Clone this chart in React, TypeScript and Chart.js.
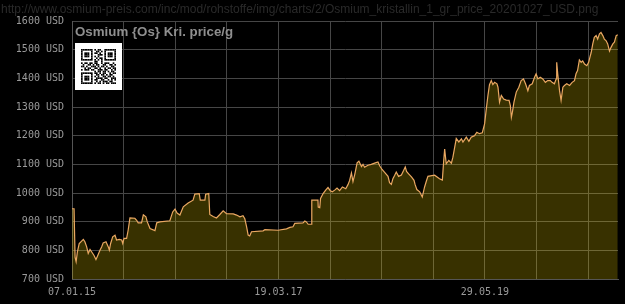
import { useEffect, useRef } from 'react';
import { Chart, registerables } from 'chart.js';

Chart.register(...registerables);

// days since 07.01.2015
const days = [
  0, 8, 12, 16, 21, 28, 44, 50, 57, 63, 70, 76, 85, 93, 98, 109, 115, 121, 132, 141, 145, 150, 158, 167, 173,
  183, 193, 197, 202, 212, 218, 225, 244, 251, 257, 270, 277, 287, 292, 303, 322, 329, 341, 380, 391, 400, 408,
  419, 432, 451, 470, 477, 494, 498, 516, 519, 531, 535, 548, 561, 574, 587, 600, 626, 639, 652, 664, 671, 678,
  684, 690, 697, 742, 749, 800, 833, 846, 858, 865, 897, 904, 910, 917, 930, 931, 955, 956, 962, 965, 975, 985,
  994, 1003, 1011, 1020, 1029, 1039, 1050, 1063, 1072, 1078, 1085, 1091, 1098, 1107, 1114, 1124, 1130, 1136,
  1149, 1162, 1175, 1188, 1195, 1204, 1214, 1227, 1233, 1240, 1246, 1253, 1259, 1268, 1279, 1288, 1294, 1299,
  1307, 1318, 1328, 1332, 1339, 1350, 1360, 1369, 1376, 1382, 1392, 1408, 1427, 1438, 1443, 1447, 1453, 1463,
  1473, 1479, 1486, 1492, 1502, 1512, 1518, 1531, 1541, 1550, 1563, 1572, 1582, 1593, 1602, 1608, 1615, 1621,
  1628, 1634, 1641, 1650, 1654, 1660, 1667, 1676, 1686, 1697, 1702, 1706, 1710, 1716, 1725, 1735, 1744, 1753,
  1761, 1770, 1776, 1787, 1796, 1802, 1809, 1818, 1828, 1838, 1847, 1857, 1864, 1873, 1880, 1882, 1886, 1893,
  1899, 1906, 1912, 1921, 1932, 1942, 1951, 1957, 1963, 1970, 1977, 1983, 1990, 1999, 2006, 2016, 2022, 2028,
  2035, 2041, 2048, 2054, 2061, 2067, 2074, 2080, 2087, 2093, 2100, 2106, 2113, 2119,
];

// USD per gram
const prices = [
  945, 945, 775, 760, 795, 824, 838, 830, 812, 789, 803, 795, 783, 768, 778, 801, 812, 826, 830, 812, 801, 824,
  847, 853, 836, 838, 836, 824, 842, 842, 870, 913, 912, 905, 896, 896, 924, 917, 900, 876, 869, 896, 899, 903,
  934, 944, 930, 923, 952, 965, 975, 996, 998, 975, 975, 996, 998, 925, 918, 913, 925, 938, 928, 927, 923, 917,
  921, 910, 882, 853, 850, 865, 868, 872, 870, 875, 880, 882, 894, 896, 902, 899, 891, 891, 975, 975, 951, 949,
  981, 998, 1010, 1019, 1008, 1004, 1010, 1017, 1008, 1021, 1015, 1030, 1044, 1070, 1040, 1065, 1105, 1111,
  1092, 1100, 1090, 1097, 1100, 1104, 1108, 1094, 1082, 1072, 1058, 1036, 1030, 1050, 1062, 1073, 1058, 1063,
  1079, 1091, 1075, 1067, 1056, 1044, 1030, 1012, 1004, 986, 1021, 1042, 1058, 1060, 1062, 1050, 1045, 1110,
  1153, 1102, 1114, 1104, 1125, 1160, 1190, 1178, 1189, 1178, 1195, 1180, 1195, 1200, 1212, 1207, 1210, 1241,
  1288, 1340, 1378, 1392, 1378, 1386, 1381, 1369, 1317, 1340, 1328, 1324, 1323, 1305, 1264, 1282, 1317, 1352,
  1369, 1392, 1398, 1381, 1357, 1375, 1381, 1404, 1416, 1398, 1404, 1398, 1386, 1392, 1392, 1386, 1381, 1398,
  1456, 1416, 1357, 1323, 1369, 1375, 1381, 1375, 1386, 1392, 1416, 1427, 1464, 1456, 1461, 1450, 1444, 1456,
  1491, 1520, 1543, 1549, 1537, 1555, 1560, 1549, 1537, 1531, 1520, 1495, 1508, 1520, 1526, 1549, 1552,
];

const X_MAX_DAYS = 2120;
const GRID_STEP_DAYS = 200.4;
const GRID_COUNT = 11;
const xTickLabels: Record<number, string> = { 0: '07.01.15', 4: '19.03.17', 8: '29.05.19' };
const Y_MIN = 700;
const Y_MAX = 1600;
const Y_STEP = 100;
const Y_UNIT = 'USD';

const TITLE = 'Osmium {Os} Kri. price/g';
const URL_TEXT = 'http://www.osmium-preis.com/inc/mod/rohstoffe/img/charts/2/Osmium_kristallin_1_gr_price_20201027_USD.png';

const QR = [
  '111111101011001111111',
  '100000100110101000001',
  '101110101101001011101',
  '101110100011101011101',
  '101110101010001011101',
  '100000100101101000001',
  '111111101010101111111',
  '000000001100100000000',
  '101101101100101110010',
  '010011010110011001101',
  '110100111010110100110',
  '001011001101001011011',
  '101110110011101100101',
  '000000001011011010110',
  '111111101101011001011',
  '100000100110110101100',
  '101110101010011011010',
  '101110100111101100111',
  '101110101100110010101',
  '100000100101011101100',
  '111111101011010110111',
];

const decorPlugin = {
  id: 'decor',
  beforeDraw(chart: any) {
    const { ctx, width, height } = chart;
    ctx.save();
    ctx.fillStyle = '#000';
    ctx.fillRect(0, 0, width, height);
    ctx.restore();
  },
  afterDraw(chart: any) {
    const { ctx, chartArea } = chart;
    ctx.save();
    // url
    ctx.font = '12px "Liberation Sans", Arial, sans-serif';
    const w12 = ctx.measureText(URL_TEXT).width;
    const size = (12 * 598) / w12;
    ctx.font = `${size.toFixed(2)}px "Liberation Sans", Arial, sans-serif`;
    ctx.fillStyle = '#2a2a2a';
    ctx.textBaseline = 'alphabetic';
    ctx.textAlign = 'left';
    ctx.fillText(URL_TEXT, 1, 13);
    // title
    ctx.font = 'bold 13.3px "Liberation Sans", Arial, sans-serif';
    ctx.fillStyle = '#8f8f8f';
    ctx.fillText(TITLE, chartArea.left + 3, 36);
    // qr
    const qx = chartArea.left + 3;
    const qy = 43;
    ctx.fillStyle = '#fff';
    ctx.fillRect(qx, qy, 47, 47);
    ctx.fillStyle = '#000';
    const m = 35 / 21;
    for (let r = 0; r < QR.length; r++) {
      for (let c = 0; c < QR[r].length; c++) {
        if (QR[r][c] === '1') ctx.fillRect(qx + 6 + c * m, qy + 6 + r * m, m, m);
      }
    }
    ctx.restore();
  },
};

function dateLabelForIndex(i: number) {
  return xTickLabels[i] ?? '';
}

export default function App() {
  const ref = useRef<HTMLCanvasElement>(null);
  useEffect(() => {
    document.body.style.margin = '0';
    document.body.style.background = '#000';
    const points = days.map((d, i) => ({ x: d, y: prices[i] }));
    const chart = new Chart(ref.current!, {
      type: 'line',
      data: {
        datasets: [
          {
            data: points,
            borderColor: '#eaa862',
            borderWidth: 1.2,
            pointRadius: 0,
            fill: 'start',
            backgroundColor: 'rgba(255, 222, 0, 0.22)',
            tension: 0,
          },
        ],
      },
      options: {
        animation: false,
        responsive: false,
        maintainAspectRatio: false,
        devicePixelRatio: 1,
        layout: { padding: { top: 21, right: 7, left: 0, bottom: 0 } },
        plugins: { legend: { display: false }, tooltip: { enabled: false }, title: { display: false } },
        scales: {
          x: {
            type: 'linear',
            min: 0,
            max: X_MAX_DAYS,
            afterBuildTicks: (s: any) => {
              s.ticks = Array.from({ length: GRID_COUNT }, (_, i) => ({ value: i * GRID_STEP_DAYS }));
            },
            afterFit: (s: any) => {
              s.height = 25;
            },
            ticks: {
              autoSkip: false,
              maxRotation: 0,
              padding: 7,
              color: '#9a9a9a',
              font: { family: '"DejaVu Sans Mono", monospace', size: 10 },
              callback: (_v: any, i: number) => dateLabelForIndex(i),
            },
            grid: { color: '#464646', drawTicks: false, lineWidth: 1 },
            border: { color: '#555', width: 1 },
          },
          y: {
            min: Y_MIN,
            max: Y_MAX,
            afterFit: (s: any) => {
              s.width = 72;
            },
            ticks: {
              stepSize: Y_STEP,
              padding: 8,
              color: '#9a9a9a',
              font: { family: '"DejaVu Sans Mono", monospace', size: 10 },
              callback: (v: any) => `${v} ${Y_UNIT}`,
            },
            grid: { color: '#464646', drawTicks: false, lineWidth: 1 },
            border: { color: '#555', width: 1 },
          },
        },
      },
      plugins: [decorPlugin],
    });
    return () => chart.destroy();
  }, []);
  return (
    <div style={{ width: 625, height: 304, background: '#000' }}>
      <canvas ref={ref} width={625} height={304} style={{ display: 'block', width: 625, height: 304 }} />
    </div>
  );
}
